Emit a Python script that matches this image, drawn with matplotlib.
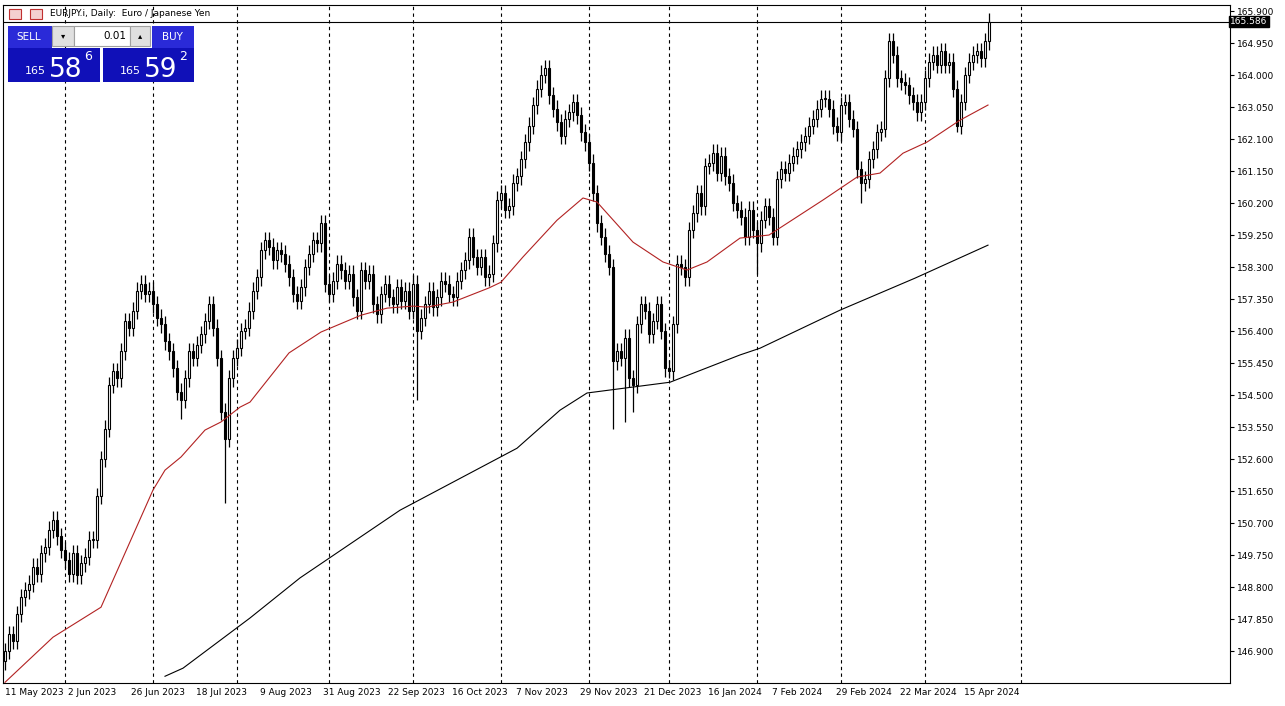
import numpy as np
import matplotlib
matplotlib.use("Agg")
import matplotlib.pyplot as plt
from matplotlib.patches import Rectangle
import matplotlib.transforms as mtransforms

# ---------------- data ----------------
closes = [
    146.9, 147.4, 147.2, 148.0, 148.5, 148.7, 148.9, 149.4, 149.2, 149.8,
    150.0, 150.5, 150.8, 150.3, 149.9, 149.6, 149.2, 149.8, 149.15, 149.5,
    149.7, 150.2, 150.2, 151.5, 152.6, 153.5, 154.8, 155.2, 155.0, 155.8,
    156.7, 156.5, 157.0, 157.6, 157.8, 157.5, 157.6, 157.2, 156.8, 156.6,
    156.1, 155.8, 155.3, 154.6, 154.35, 155.0, 155.8, 155.6, 156.0, 156.3,
    156.7, 157.2, 156.5, 155.6, 154.0, 153.2, 155.0, 155.6, 155.9, 156.4,
    156.5, 157.0, 157.6, 158.0, 158.8, 159.1, 158.9, 158.5, 158.8, 158.7,
    158.4, 158.0, 157.5, 157.3, 157.7, 158.3, 158.7, 159.1, 159.0, 159.6,
    157.8, 157.5, 157.9, 158.4, 158.2, 157.9, 158.1, 157.4, 157.0, 158.2,
    157.9, 158.1, 157.2, 156.9, 157.5, 157.8, 157.4, 157.2, 157.7, 157.3,
    157.6, 157.0, 157.8, 156.4, 156.8, 157.2, 157.6, 157.1, 157.4, 157.9,
    157.8, 157.5, 157.4, 157.9, 158.2, 158.5, 159.2, 158.6, 158.3, 158.6,
    158.0, 158.1, 159.0, 160.3, 160.5, 160.0, 160.1, 160.8, 161.0, 161.5,
    162.0, 162.5, 163.1, 163.6, 164.0, 164.2, 163.4, 163.0, 162.6, 162.2,
    162.7, 162.9, 163.2, 162.8, 162.3, 162.0, 161.4, 160.5, 159.6, 159.2,
    158.7, 158.3, 155.5, 155.8, 155.6, 156.2, 155.0, 154.8, 156.6, 157.2,
    157.0, 156.3, 156.7, 157.2, 156.4, 155.3, 155.2, 156.6, 158.4, 158.3,
    158.0, 159.4, 159.9, 160.5, 160.1, 161.3, 161.4, 161.7, 161.1, 161.6,
    161.0, 160.8, 160.2, 160.0, 159.8, 159.2, 160.0, 159.4, 159.0, 159.7,
    160.1, 159.8, 159.2, 160.9, 161.2, 161.1, 161.4, 161.6, 161.8, 162.0,
    162.2, 162.5, 162.7, 163.0, 163.3, 163.3, 163.0, 162.5, 162.3, 163.1,
    163.2, 162.7, 162.4, 161.2, 160.8, 160.9, 161.5, 161.8, 162.3, 162.4,
    163.9, 165.0, 164.6, 163.9, 163.8, 163.7, 163.4, 163.2, 162.9, 163.2,
    163.9, 164.4, 164.6, 164.3, 164.7, 164.3, 164.4, 163.6, 162.5, 163.2,
    164.0, 164.4, 164.6, 164.7, 164.5, 165.0, 165.586,
]
first_open = 146.6
wick = 0.25
# bars with long wicks: index -> (low, high); None keeps the default
long_wicks = {
    44: (153.8, None), 55: (151.3, None), 103: (154.35, None),
    134: (None, 164.3), 152: (153.5, None), 155: (153.7, None),
    157: (154.0, None), 166: (155.0, None), 188: (158.1, None),
    214: (160.2, None), 238: (162.3, None),
}

# 50-period MA (red), read as (bar, price)
ma50_bar = [0, 12, 24, 37, 40, 44, 50, 54, 58.75, 61.25, 71, 79, 89, 95.5, 102,
            105.5, 112, 121, 124, 129.5, 138, 144.5, 148, 157, 164.5, 170.5,
            175.5, 183.75, 191, 204.5, 213, 218.75, 224.5, 230.5, 238.75, 245.75]
ma50_val = [145.97, 147.31, 148.20, 151.68, 152.27, 152.66, 153.46, 153.70, 154.14,
            154.29, 155.75, 156.37, 156.87, 157.08, 157.14, 157.11, 157.26, 157.68,
            157.85, 158.60, 159.69, 160.35, 160.23, 159.04, 158.45, 158.21, 158.45,
            159.16, 159.25, 160.29, 160.97, 161.09, 161.68, 162.01, 162.66, 163.11]
# 200-period MA (black)
ma200_bar = [40, 44.5, 61.25, 73.75, 98.75, 128, 138.75, 145.5, 166.25, 183.75,
             188.75, 208.75, 227.5, 245.75]
ma200_val = [146.15, 146.39, 147.88, 149.07, 151.08, 152.92, 154.05, 154.56, 154.88,
             155.69, 155.89, 157.02, 157.97, 158.95]

date_labels = ["11 May 2023", "2 Jun 2023", "26 Jun 2023", "18 Jul 2023", "9 Aug 2023",
               "31 Aug 2023", "22 Sep 2023", "16 Oct 2023", "7 Nov 2023", "29 Nov 2023",
               "21 Dec 2023", "16 Jan 2024", "7 Feb 2024", "29 Feb 2024", "22 Mar 2024",
               "15 Apr 2024"]
date_label_bars = [0, 15.75, 31.5, 47.75, 63.75, 79.5, 95.75, 111.75, 127.75, 143.75,
                   159.75, 175.75, 191.75, 207.75, 223.75, 239.75]
grid_bars = [15, 37, 58, 81, 102, 124, 146, 166, 188, 209, 230, 254]
price_ticks = [round(165.9 - 0.95 * k, 3) for k in range(21)]
last_price = 165.586

# ---------------- figure ----------------
W, H = 1285, 706
fig = plt.figure(figsize=(W / 100, H / 100), dpi=100)
fig.patch.set_facecolor("white")
ax = fig.add_axes([3 / W, 1 - 683 / H, 1227 / W, 678 / H])
ax.set_xlim(-0.5, 306.25)
ax.set_ylim(145.95, 166.08)

closes = np.array(closes)
opens = np.concatenate([[first_open], closes[:-1]])
idx = np.arange(len(closes))
highs = np.maximum(opens, closes) + wick
lows = np.minimum(opens, closes) - wick
for i, (lo, hi) in long_wicks.items():
    if lo is not None:
        lows[i] = lo
    if hi is not None:
        highs[i] = hi

ax.vlines(idx, lows, highs, color="black", lw=0.9, zorder=2)
up = closes >= opens
body = np.maximum(np.abs(closes - opens), 0.03)
ax.bar(idx[up], body[up], bottom=opens[up], width=0.6, color="white",
       edgecolor="black", lw=0.8, zorder=3)
ax.bar(idx[~up], body[~up], bottom=closes[~up], width=0.6, color="black",
       edgecolor="black", lw=0.8, zorder=3)

ax.plot(ma50_bar, ma50_val, color="#b22222", lw=0.8, zorder=4)
ax.plot(ma200_bar, ma200_val, color="black", lw=0.8, zorder=4)

for g in grid_bars:
    ax.axvline(g, color="black", lw=0.8, ls=(0, (3, 3)), zorder=1)
ax.axhline(last_price, color="black", lw=0.8, zorder=1)

ax.set_xticks([])
ax.yaxis.tick_right()
ax.set_yticks(price_ticks)
ax.set_yticklabels([f"{p:.3f}" for p in price_ticks], fontsize=6.5)
ax.tick_params(axis="y", length=3, pad=2)
for s in ax.spines.values():
    s.set_linewidth(0.8)

trans = mtransforms.blended_transform_factory(ax.transData, ax.transAxes)
for b, lab in zip(date_label_bars, date_labels):
    ax.text(b, -0.008, lab, transform=trans, ha="left", va="top", fontsize=6.5)

ax.text(1.0, last_price, f"{last_price:.3f}", transform=mtransforms.blended_transform_factory(ax.transAxes, ax.transData),
        ha="left", va="center", fontsize=6.5, color="white",
        bbox=dict(boxstyle="square,pad=0.15", fc="black", ec="black"))

# title bar
fig.text(50 / W, 1 - 14 / H, "EURJPY.i, Daily:  Euro / Japanese Yen", fontsize=6.5, va="center")
fig.patches.append(Rectangle((9 / W, 1 - 19 / H), 12 / W, 10 / H, transform=fig.transFigure,
                             fc="#f4d0d0", ec="#c03030", lw=0.8))
fig.patches.append(Rectangle((30 / W, 1 - 19 / H), 12 / W, 10 / H, transform=fig.transFigure,
                             fc="#f4d0d0", ec="#c03030", lw=0.8))

# trade panel
def box(x0, y0, w, h, fc, ec="none"):
    fig.patches.append(Rectangle((x0 / W, 1 - (y0 + h) / H), w / W, h / H,
                                 transform=fig.transFigure, fc=fc, ec=ec, lw=0.8, zorder=5))

box(8, 26, 44, 22, "#2a2ad8")
box(8, 48, 92, 34, "#1010b8")
box(152, 26, 42, 22, "#2a2ad8")
box(103, 48, 91, 34, "#1010b8")
box(52, 26, 22, 20, "#e0e0e0", "#a0a0a0")
box(74, 26, 56, 20, "white", "#a0a0a0")
box(130, 26, 20, 20, "#e0e0e0", "#a0a0a0")
fig.text(29 / W, 1 - 37 / H, "SELL", color="white", fontsize=7.5, ha="center", va="center", zorder=6)
fig.text(172 / W, 1 - 37 / H, "BUY", color="white", fontsize=7.5, ha="center", va="center", zorder=6)
fig.text(126 / W, 1 - 36 / H, "0.01", color="black", fontsize=7.5, ha="right", va="center", zorder=6)
fig.text(63 / W, 1 - 36 / H, "▾", fontsize=6, ha="center", va="center", zorder=6)
fig.text(140 / W, 1 - 36 / H, "▴", fontsize=6, ha="center", va="center", zorder=6)
for x0, big, sup in [(25, "58", "6"), (120, "59", "2")]:
    fig.text(x0 / W, 1 - 74 / H, "165", color="white", fontsize=8, ha="left", va="baseline", zorder=6)
    fig.text((x0 + 24) / W, 1 - 77 / H, big, color="white", fontsize=19, ha="left", va="baseline", zorder=6)
    fig.text((x0 + 59) / W, 1 - 60 / H, sup, color="white", fontsize=9, ha="left", va="baseline", zorder=6)

fig.savefig("out.png", dpi=100)
